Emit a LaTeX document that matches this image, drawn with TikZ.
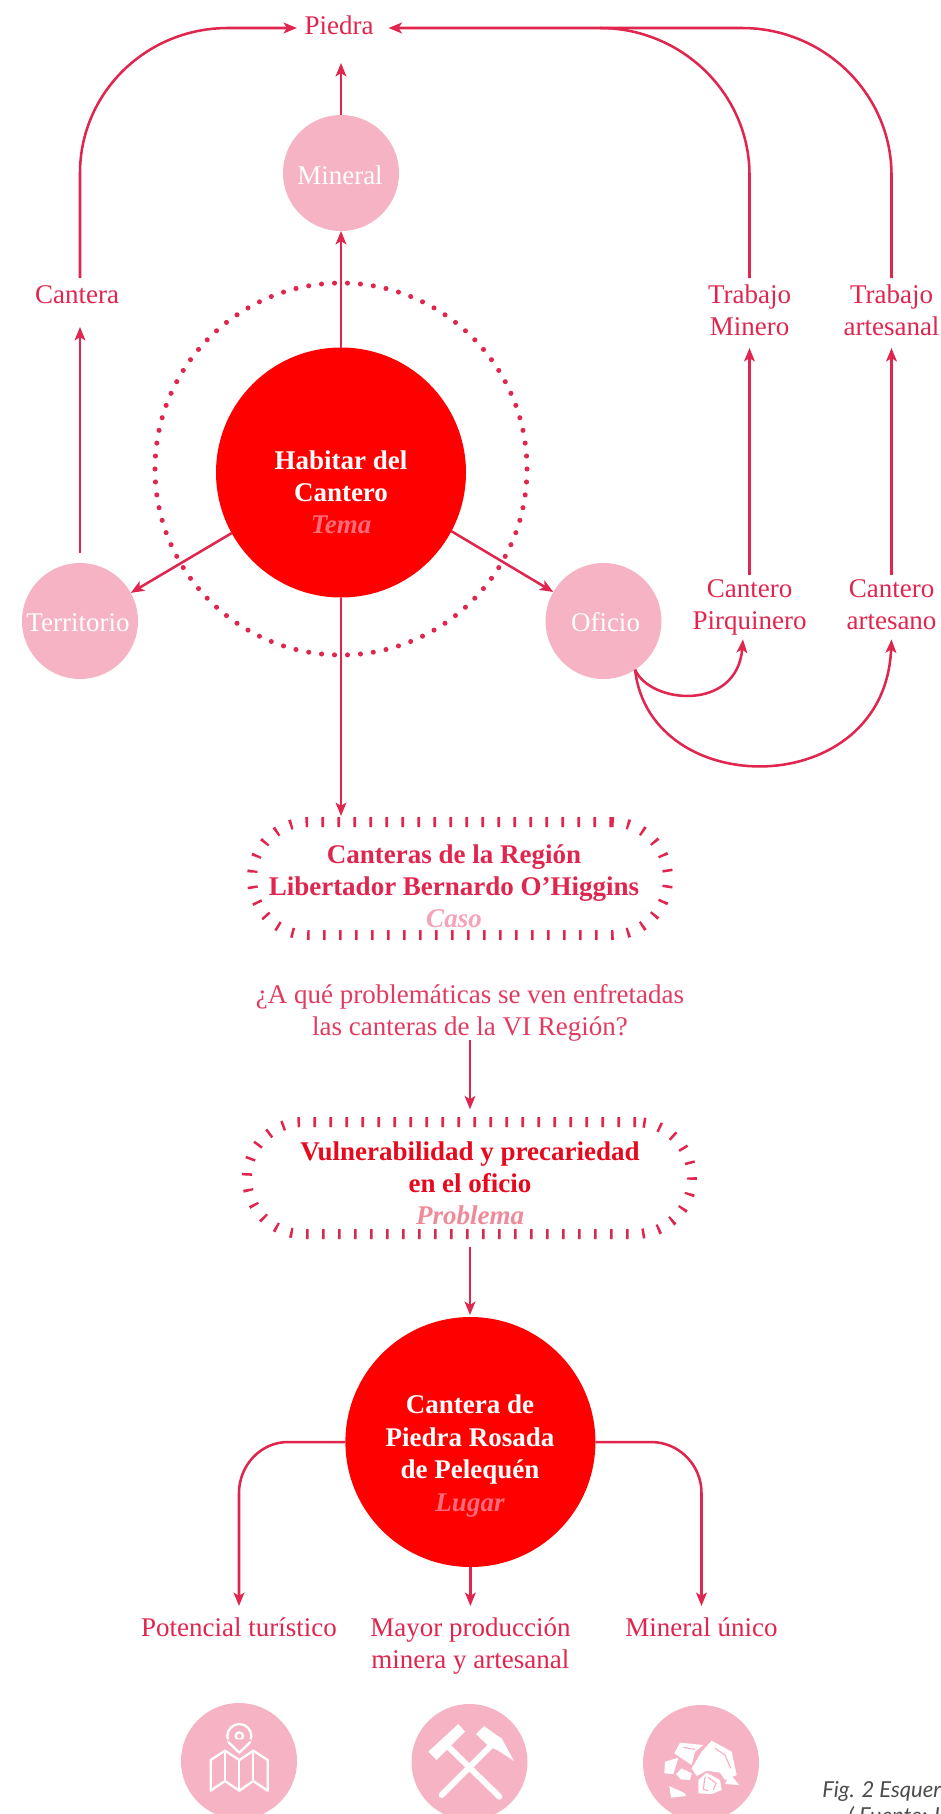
\documentclass[tikz,border=0pt]{standalone}
\usepackage{fontspec}
\setmainfont{Liberation Serif}
\newfontfamily\capfont{Lato}
\usetikzlibrary{arrows.meta}
\definecolor{crim}{HTML}{E0264F}
\definecolor{qcol}{HTML}{E23A60}
\definecolor{pinkc}{HTML}{F6B3C4}
\definecolor{pureR}{HTML}{FF0000}
\definecolor{temaC}{HTML}{FF6B78}
\definecolor{casoC}{HTML}{F4A3B8}
\definecolor{probT}{HTML}{E60A1E}
\definecolor{probL}{HTML}{F08A98}
\tikzset{
  x=0.75pt,y=-0.75pt,
  lab/.style={align=center,inner sep=0pt,outer sep=0pt,text=crim,font=\fontsize{20.25}{24.3}\selectfont},
  wlab/.style={lab,text=white},
  blab/.style={lab,font=\fontsize{20.25}{24.3}\selectfont\bfseries},
  bwlab/.style={blab,text=white},
  big/.style={circle,fill=pureR,minimum size=187.5pt,inner sep=0pt,outer sep=0pt},
  small/.style={circle,fill=pinkc,minimum size=87pt,inner sep=0pt,outer sep=0pt},
  conn/.style={draw=crim,line width=1.9pt},
  arr/.style={conn,-{Stealth[length=10pt,width=8pt,inset=2.4pt]}},
  dotring/.style={circle,draw=crim,minimum size=279pt,inner sep=0pt,outer sep=0pt,line width=3.8pt,line cap=round,dash pattern=on 0pt off 9.74pt},
  tickbox/.style={draw=crim,rounded corners=42pt,line width=7.5pt,dash pattern=on 1.9pt off 10.1pt,inner sep=0pt,outer sep=0pt},
  icon/.style={white,line width=1.7pt,line join=round},
}
\begin{document}
\begin{tikzpicture}
\clip (0,0) rectangle (940,1814);
\fill[white] (0,0) rectangle (940,1814);
% rings and circles
\node[dotring] (ring) at (341,469) {};
\node[big] (tema) at (341,472.5) {};
\node[small] (mineral) at (341,173) {};
\node[small] (terr) at (80,621) {};
\node[small] (oficio) at (603.5,621) {};
\node[big] (lugar) at (470.4,1442) {};
\node[small] (ic1) at (239,1761) {};
\node[small] (ic2) at (469.5,1762) {};
\node[small] (ic3) at (701,1763) {};
% text on circles
\node[bwlab] (tematxt) at (341,495) {\strut Habitar del\\\strut Cantero\\\strut\textcolor{temaC}{\itshape Tema}};
\node[wlab] (mineraltxt) at (340,178) {\strut Mineral};
\node[wlab] (terrtxt) at (78,625) {\strut Territorio};
\node[wlab] (oficiotxt) at (605.5,625) {\strut Oficio};
\node[bwlab] (lugartxt) at (470,1456) {\strut Cantera de\\\strut Piedra Rosada\\\strut de Pelequ\'en\\\strut\textcolor{temaC}{\itshape Lugar}};
% labels
\node[lab,minimum width=63pt,minimum height=52.5pt] (piedra) at (339,28) {\strut Piedra};
\node[lab,minimum height=28.5pt] (cantera) at (77,297) {\strut Cantera};
\node[lab,minimum height=52.5pt] (tm) at (749.5,313) {\strut Trabajo\\\strut Minero};
\node[lab,minimum height=52.5pt] (ta) at (891.5,313) {\strut Trabajo\\\strut artesanal};
\node[lab] (cp) at (749.5,607) {\strut Cantero\\\strut Pirquinero};
\node[lab] (ca) at (891.5,607) {\strut Cantero\\\strut artesano};
% tick boxes
\node[tickbox,minimum width=312pt,minimum height=84.75pt] (caso) at (460,878.5) {};
\node[blab] (casotxt) at (454,889) {\strut Canteras de la Regi\'on\\\strut Libertador Bernardo O’Higgins\\\strut\textcolor{casoC}{\itshape Caso}};
\node[lab,text=qcol] (preg) at (470,1013) {\strut ¿A qué problemáticas se ven enfretadas\\\strut las canteras de la VI Región?};
\node[tickbox,minimum width=333.75pt,minimum height=84pt] (prob) at (469.5,1178) {};
\node[blab,text=probT] (probtxt) at (470,1186) {\strut Vulnerabilidad y precariedad\\\strut en el oficio\\\strut\textcolor{probL}{\itshape Problema}};
\node[lab,minimum height=36pt] (pot) at (239,1630) {\strut Potencial turístico};
\node[lab,minimum height=60pt] (mayor) at (470.4,1646) {\strut Mayor producción\\\strut minera y artesanal};
\node[lab,minimum height=36pt] (unico) at (701.5,1630) {\strut Mineral único};
% connectors
\draw[arr] (tema.north) -- (mineral.south);
\draw[arr] (mineral.north) -- (mineral.north |- piedra.south);
\draw[arr] (tema.209.4) -- (terr.29.6);
\draw[arr] (tema.-28.8) -- (oficio.150);
\draw[arr,shorten <=7.5pt,shorten >=8.25pt] (terr.north) -- (terr.north |- cantera.south);
\draw[arr] (terr.north |- cantera.north) -- (80,173) .. controls (80,93) and (146,28) .. (228,28) -- (piedra.west);
\draw[arr,shorten >=5.6pt] (tm.north) -- (749.5,175) .. controls (749.5,94) and (682,28) .. (600,28) -- (piedra.east);
\draw[conn] (ta.north) -- (891.5,175) .. controls (891.5,94) and (824,28) .. (742,28) -- (600,28);
\draw[arr] (cp.north) -- (tm.south);
\draw[arr] (ca.north) -- (ta.south);
\draw[arr] (oficio.-57) .. controls (650,704) and (737,712) .. (cp.south -| 743,0);
\draw[arr] (oficio.-57) .. controls (650,802) and (885,802) .. (ca.south);
\draw[arr,shorten >=4.5pt] (tema.south) -- (tema.south |- caso.north);
\draw[arr,shorten <=-3.75pt,shorten >=9.5pt] (preg.south) -- (preg.south |- prob.north);
\draw[arr,shorten <=9.75pt,shorten >=1.5pt] (preg.south |- prob.south) -- (preg.south |- lugar.north);
\draw[arr] (lugar.south) -- (mayor.north);
\draw[arr] (lugar.west) -- (288,1442) .. controls (261,1442) and (239,1465) .. (239,1493) -- (pot.north);
\draw[arr] (lugar.east) -- (651,1442) .. controls (679,1442) and (701.5,1465) .. (701.5,1493) -- (unico.north);
% icon: map
\begin{scope}[shift={(180,1700)},x=0.25pt,y=-0.25pt]
  \draw[icon] (178,108) circle[radius=36];
  \draw[icon] (178,108) circle[radius=11];
  \fill[pinkc] (140,118) -- (178,165) -- (216,118) -- cycle;
  \draw[icon] (145,126) -- (178,158) -- (211,126);
  \draw[icon] (92,180) -- (135,152) -- (178,180) -- (220,152) -- (263,180) -- (263,272) -- (220,243) -- (178,272) -- (135,243) -- (92,272) -- cycle;
  \draw[icon] (135,152) -- (135,243) (178,180) -- (178,272) (220,152) -- (220,243);
\end{scope}
% icon: hammers
\begin{scope}[shift={(410,1700)},x=0.25pt,y=-0.25pt]
  \draw[white,line width=4.5pt,line cap=round] (115,140) -- (268,290);
  \draw[white,line width=4.5pt,line cap=round] (240,140) -- (95,285);
  \fill[white] (145,72) -- (165,95) -- (80,180) -- (55,155) -- cycle;
  \fill[white] (222,78) -- (198,102) -- (240,142) -- (262,150) -- (312,183) -- (275,115) -- (255,102) -- cycle;
\end{scope}
% icon: rocks
\begin{scope}[shift={(640,1700)},x=0.25pt,y=-0.25pt]
  \fill[white] (215,122) -- (275,155) -- (290,225) -- (255,240) -- (240,218) -- (200,212) -- (170,228) -- (155,205) -- (185,155) -- cycle;
  \fill[white] (120,128) -- (190,135) -- (165,155) -- (155,195) -- (103,160) -- cycle;
  \fill[white] (75,185) -- (115,173) -- (100,222) -- (73,220) -- cycle;
  \fill[white] (125,205) -- (155,220) -- (150,240) -- (122,238) -- (108,222) -- cycle;
  \fill[white] (88,258) -- (135,280) -- (138,288) -- (93,293) -- cycle;
  \fill[white] (175,240) -- (200,218) -- (240,240) -- (245,270) -- (215,282) -- (175,280) -- cycle;
  \fill[white] (270,222) -- (298,255) -- (255,252) -- cycle;
  \draw[pinkc,line width=0.9pt] (225,145) -- (255,165) -- (272,205) (130,142) -- (165,148) (195,230) -- (190,268) -- (205,272) (205,232) -- (228,250) -- (220,270);
\end{scope}
% caption
\node[anchor=base west,inner sep=0pt,text=black!70,font=\capfont\itshape\fontsize{16.5}{20}\selectfont] (fig) at (822,1797) {Fig. 2 Esquer};
\node[anchor=base west,inner sep=0pt,text=black!70,font=\capfont\itshape\fontsize{16.5}{20}\selectfont] (fuente) at (848,1823) {( Fuente: I};
\end{tikzpicture}
\end{document}
